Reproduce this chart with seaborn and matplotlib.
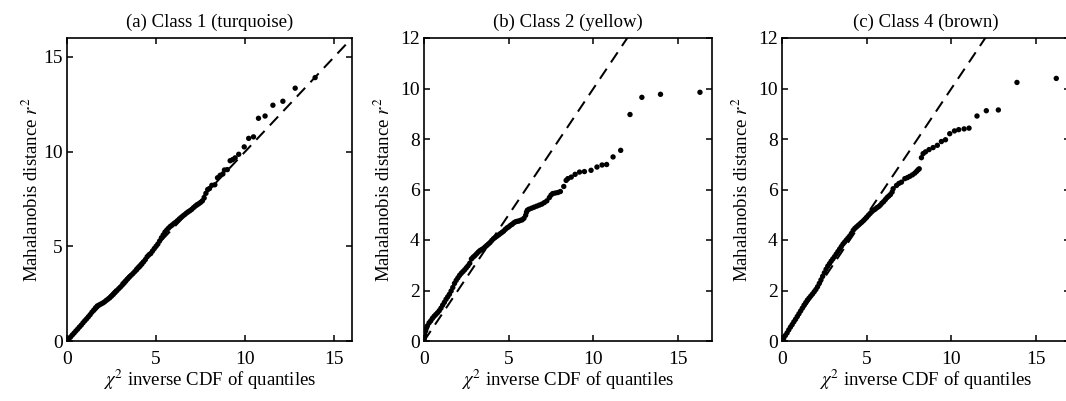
import matplotlib
matplotlib.use("Agg")
import matplotlib.pyplot as plt
import seaborn as sns
import pandas as pd

# ---------------- data ----------------
titles = ["(a) Class 1 (turquoise)", "(b) Class 2 (yellow)", "(c) Class 4 (brown)"]

a_x = [0.0, 0.1, 0.2, 0.3, 0.4, 0.5, 0.6, 0.7, 0.8, 0.9, 1.0, 1.1, 1.2, 1.3, 1.4, 1.5,
       1.6, 1.7, 1.8, 1.9, 2.0, 2.1, 2.2, 2.3, 2.4, 2.5, 2.6, 2.7, 2.8, 2.9, 3.0, 3.1,
       3.2, 3.3, 3.4, 3.5, 3.6, 3.7, 3.8, 3.9, 4.0, 4.1, 4.2, 4.3, 4.4, 4.5, 4.6, 4.7,
       4.8, 4.9, 5.0, 5.1, 5.2, 5.3, 5.4, 5.5, 5.6, 5.7, 5.8, 5.9, 6.0, 6.1, 6.2, 6.3,
       6.4, 6.5, 6.6, 6.7, 6.8, 6.9, 7.0, 7.1, 7.2, 7.3, 7.4, 7.5, 7.6, 7.7, 7.8, 7.9,
       8.0, 8.13, 8.3, 8.45, 8.6, 8.75, 8.84, 9.0, 9.16, 9.3, 9.44, 9.64, 9.95, 10.2,
       10.47, 10.75, 11.12, 11.56, 12.12, 12.81, 13.93]
a_y = [0.0, 0.1, 0.21, 0.32, 0.42, 0.53, 0.63, 0.74, 0.84, 0.96, 1.07, 1.17, 1.28, 1.39, 1.52, 1.63,
       1.75, 1.85, 1.90, 1.95, 2.0, 2.06, 2.14, 2.21, 2.28, 2.37, 2.46, 2.56, 2.66, 2.76, 2.85, 2.95,
       3.05, 3.16, 3.27, 3.37, 3.47, 3.56, 3.66, 3.75, 3.86, 3.95, 4.06, 4.18, 4.30, 4.45, 4.55, 4.62,
       4.75, 4.88, 5.0, 5.12, 5.28, 5.45, 5.60, 5.75, 5.86, 5.96, 6.05, 6.12, 6.20, 6.27, 6.35, 6.44,
       6.52, 6.60, 6.67, 6.75, 6.82, 6.88, 6.95, 7.04, 7.12, 7.19, 7.25, 7.32, 7.40, 7.55, 7.80, 8.00,
       8.05, 8.22, 8.25, 8.62, 8.75, 8.82, 9.03, 9.05, 9.52, 9.58, 9.67, 9.86, 10.25, 10.70,
       10.78, 11.76, 11.88, 12.45, 12.66, 13.35, 13.91]

b_x = [0.0, 0.02, 0.05, 0.1, 0.15, 0.2, 0.3, 0.4, 0.5, 0.6, 0.7, 0.8, 0.9, 1.0, 1.1, 1.2,
       1.3, 1.4, 1.5, 1.6, 1.7, 1.8, 1.9, 2.0, 2.1, 2.2, 2.3, 2.4, 2.5, 2.6, 2.7, 2.8,
       2.9, 3.0, 3.1, 3.2, 3.3, 3.4, 3.5, 3.6, 3.7, 3.8, 3.9, 4.0, 4.1, 4.2, 4.3, 4.4,
       4.5, 4.6, 4.7, 4.8, 4.9, 5.0, 5.1, 5.2, 5.3, 5.4, 5.5, 5.6, 5.7, 5.8, 5.9, 6.0,
       6.05, 6.1, 6.2, 6.35, 6.5, 6.65, 6.8, 6.95, 7.1, 7.25, 7.4, 7.5, 7.6, 7.75, 7.9,
       8.05, 8.25, 8.39, 8.49, 8.69, 8.92, 9.18, 9.47, 9.86, 10.21, 10.51, 10.78, 11.16,
       11.61, 12.16, 12.86, 13.96, 16.29]
b_y = [0.0, 0.1, 0.25, 0.4, 0.52, 0.6, 0.72, 0.8, 0.9, 0.98, 1.05, 1.12, 1.2, 1.3, 1.42, 1.53,
       1.65, 1.75, 1.85, 1.98, 2.12, 2.28, 2.4, 2.5, 2.6, 2.68, 2.75, 2.82, 2.9, 2.98, 3.08, 3.25,
       3.32, 3.38, 3.45, 3.52, 3.58, 3.62, 3.66, 3.72, 3.78, 3.84, 3.9, 3.98, 4.05, 4.1, 4.15, 4.2,
       4.25, 4.3, 4.35, 4.42, 4.48, 4.52, 4.58, 4.62, 4.68, 4.72, 4.74, 4.75, 4.78, 4.80, 4.86, 4.98,
       5.10, 5.18, 5.22, 5.26, 5.30, 5.34, 5.38, 5.42, 5.48, 5.55, 5.68, 5.78, 5.84, 5.86, 5.88,
       5.92, 6.12, 6.36, 6.43, 6.49, 6.60, 6.69, 6.71, 6.76, 6.89, 6.97, 6.99, 7.29,
       7.55, 8.97, 9.65, 9.77, 9.85]

c_x = [0.0, 0.1, 0.2, 0.3, 0.4, 0.5, 0.6, 0.7, 0.8, 0.9, 1.0, 1.1, 1.2, 1.3, 1.4, 1.5,
       1.6, 1.7, 1.8, 1.9, 2.0, 2.1, 2.2, 2.3, 2.4, 2.5, 2.6, 2.7, 2.8, 2.9, 3.0, 3.1,
       3.2, 3.3, 3.4, 3.5, 3.6, 3.7, 3.8, 3.9, 4.0, 4.1, 4.2, 4.3, 4.4, 4.5, 4.6, 4.7,
       4.8, 4.9, 5.0, 5.1, 5.2, 5.3, 5.4, 5.5, 5.6, 5.7, 5.8, 5.9, 6.0, 6.1, 6.2, 6.3,
       6.4, 6.5, 6.56, 6.76, 6.9, 7.05, 7.25, 7.4, 7.54, 7.7, 7.84, 7.95, 8.03, 8.1,
       8.23, 8.33, 8.47, 8.68, 8.92, 9.17, 9.41, 9.65, 9.9, 10.18, 10.43, 10.75, 11.04,
       11.51, 12.06, 12.77, 13.87, 16.19]
c_y = [0.0, 0.1, 0.22, 0.32, 0.44, 0.55, 0.65, 0.76, 0.86, 0.97, 1.08, 1.19, 1.30, 1.42, 1.52, 1.62,
       1.70, 1.78, 1.86, 1.95, 2.04, 2.15, 2.28, 2.42, 2.56, 2.70, 2.84, 2.96, 3.06, 3.16, 3.25, 3.34,
       3.44, 3.54, 3.64, 3.74, 3.84, 3.92, 4.00, 4.08, 4.16, 4.26, 4.38, 4.46, 4.52, 4.58, 4.64, 4.70,
       4.76, 4.83, 4.90, 4.98, 5.05, 5.12, 5.18, 5.22, 5.28, 5.32, 5.38, 5.46, 5.52, 5.60, 5.68, 5.74,
       5.80, 5.90, 6.03, 6.16, 6.24, 6.29, 6.43, 6.47, 6.52, 6.58, 6.65, 6.72, 6.78, 6.82,
       7.26, 7.42, 7.49, 7.58, 7.66, 7.75, 7.90, 7.97, 8.21, 8.32, 8.37, 8.40, 8.43,
       8.91, 9.12, 9.15, 10.24, 10.40]

# reference line y = x (end points) and axis limits per panel
ref_ends = [[0, 16], [0, 17], [0, 17]]
x_limits = [16, 17, 17]
y_limits = [16, 12, 12]
x_ticks = [[0, 5, 10, 15], [0, 5, 10, 15], [0, 5, 10, 15]]
y_ticks = [[0, 5, 10, 15], [0, 2, 4, 6, 8, 10, 12], [0, 2, 4, 6, 8, 10, 12]]

xlabel = r"$\chi^2$ inverse CDF of quantiles"
ylabel = r"Mahalanobis distance $r^2$"

# ---------------- style ----------------
sns.set_theme(style="ticks")
plt.rcParams["font.family"] = ["Liberation Serif", "DejaVu Serif"]
plt.rcParams["mathtext.fontset"] = "stix"
plt.rcParams["axes.edgecolor"] = "black"
plt.rcParams["axes.linewidth"] = 1.2

fig = plt.figure(figsize=(10.66, 4.01), dpi=100)
W, H = 1066.0, 401.0
boxes = [(67, 352), (424, 712), (782, 1070)]
top_px, bot_px = 38, 341
ylabel_pads = [1.0, 4.5, 4.5]

series = [(a_x, a_y), (b_x, b_y), (c_x, c_y)]
FS = 13.5
TFS = 14

for i, ((l, r), (xs, ys)) in enumerate(zip(boxes, series)):
    ax = fig.add_axes([l / W, 1 - bot_px / H, (r - l) / W, (bot_px - top_px) / H])
    df = pd.DataFrame({"x": xs, "y": ys})
    ref = pd.DataFrame({"x": ref_ends[i], "y": ref_ends[i]})
    sns.lineplot(data=ref, x="x", y="y", ax=ax, color="black", linewidth=1.45,
                 zorder=1)
    ax.lines[-1].set_dashes((6, 3.8))
    sns.scatterplot(data=df, x="x", y="y", ax=ax, color="black", s=15,
                    edgecolor="none", linewidth=0, zorder=2)
    ax.set_xlim(0, x_limits[i])
    ax.set_ylim(0, y_limits[i])
    ax.set_xticks(x_ticks[i])
    ax.set_yticks(y_ticks[i])
    ax.tick_params(direction="in", top=True, right=True, length=4.5, width=1.1,
                   labelsize=TFS, colors="black")
    ax.tick_params(axis="x", pad=7)
    ax.tick_params(axis="y", pad=3)
    for s in ax.spines.values():
        s.set_visible(True)
        s.set_color("black")
    ax.set_xlabel(xlabel, fontsize=FS, color="black", labelpad=0)
    ax.set_ylabel(ylabel, fontsize=FS, color="black", labelpad=ylabel_pads[i])
    ax.set_title(titles[i], fontsize=FS, color="black", pad=8)

fig.savefig("out.png", dpi=100)
